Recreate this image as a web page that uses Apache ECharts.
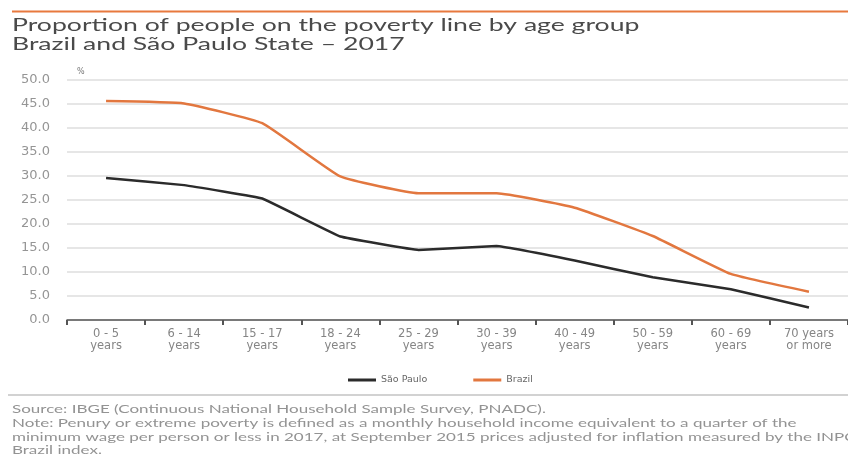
<!DOCTYPE html>
<html><head><meta charset="utf-8">
<script src="https://cdn.jsdelivr.net/npm/echarts@6/dist/echarts.min.js"></script>
<style>html,body{margin:0;padding:0;background:#fff}#c{width:848px;height:459px}</style>
</head><body><div id="c"></div>
<script>
const categories = ['0 - 5\nyears','6 - 14\nyears','15 - 17\nyears','18 - 24\nyears','25 - 29\nyears','30 - 39\nyears','40 - 49\nyears','50 - 59\nyears','60 - 69\nyears','70 years\nor more'];
const saoPaulo = [29.6, 28.1, 25.3, 17.4, 14.6, 15.4, 12.4, 8.9, 6.4, 2.6];
const brazil = [45.6, 45.1, 41.0, 29.9, 26.4, 26.4, 23.4, 17.5, 9.6, 5.9];
const yTicks = {min: 0, max: 50, interval: 5};
const titleLines = ['Proportion of people on the poverty line by age group', 'Brazil and São Paulo State – 2017'];
const sourceLines = [
  'Source: IBGE (Continuous National Household Sample Survey, PNADC).',
  'Note: Penury or extreme poverty is defined as a monthly household income equivalent to a quarter of the',
  'minimum wage per person or less in 2017, at September 2015 prices adjusted for inflation measured by the INPC',
  'Brazil index.'
];
const FONT = 'Lato, "Open Sans", sans-serif';
const WIDE = '"DejaVu Sans", Verdana, sans-serif';
const chart = echarts.init(document.getElementById('c'));
const graphics = [
  {type: 'rect', shape: {x: 12, y: 10.5, width: 836, height: 2}, style: {fill: '#e8793e'}},
  {type: 'rect', shape: {x: 8, y: 394, width: 840, height: 2}, style: {fill: '#d2d2d2'}}
];
titleLines.forEach((t, i) => graphics.push({
  type: 'text', x: 12, y: 25.5 + i * 18.5, scaleX: 1.52,
  style: {text: t, fill: '#4a4a4a', font: '17.5px ' + FONT, textVerticalAlign: 'middle'}
}));
sourceLines.forEach((t, i) => graphics.push({
  type: 'text', x: 12, y: 410 + i * 13.6, scaleX: 1.62,
  style: {text: t, fill: '#939393', font: '10.5px ' + FONT, textVerticalAlign: 'middle'}
}));
chart.setOption({
  animation: false,
  textStyle: {fontFamily: WIDE},
  grid: {left: 67, right: -12, top: 80, bottom: 139},
  xAxis: {
    type: 'category', data: categories, boundaryGap: true,
    axisLine: {lineStyle: {color: '#555', width: 1.5}},
    axisTick: {show: true, length: 5, lineStyle: {color: '#555', width: 2}},
    axisLabel: {color: '#858585', fontSize: 11.5, lineHeight: 12, margin: 8, interval: 0, fontFamily: WIDE}
  },
  yAxis: {
    type: 'value', min: yTicks.min, max: yTicks.max, interval: yTicks.interval,
    name: '%', nameLocation: 'end', nameGap: 4,
    nameTextStyle: {color: '#777', fontSize: 8, align: 'left', padding: [0, 0, 0, 10], fontFamily: WIDE},
    axisLine: {show: false}, axisTick: {show: false},
    axisLabel: {color: '#959595', fontSize: 13, margin: 17, formatter: v => v.toFixed(1), fontFamily: WIDE},
    splitLine: {lineStyle: {color: '#e6e6e6', width: 2}}
  },
  legend: {
    top: 370, left: 343, itemWidth: 28, itemHeight: 3, itemGap: 46,
    icon: 'rect',
    textStyle: {color: '#666', fontSize: 9.5, fontFamily: WIDE},
    data: ['São Paulo', 'Brazil']
  },
  series: [
    {name: 'São Paulo', type: 'line', data: saoPaulo, symbol: 'none', smooth: 0.06,
     lineStyle: {color: '#2b2b2b', width: 2.5}, itemStyle: {color: '#2b2b2b'}},
    {name: 'Brazil', type: 'line', data: brazil, symbol: 'none', smooth: 0.12,
     lineStyle: {color: '#e2773f', width: 2.5}, itemStyle: {color: '#e2773f'}}
  ],
  graphic: graphics
});
</script></body></html>
